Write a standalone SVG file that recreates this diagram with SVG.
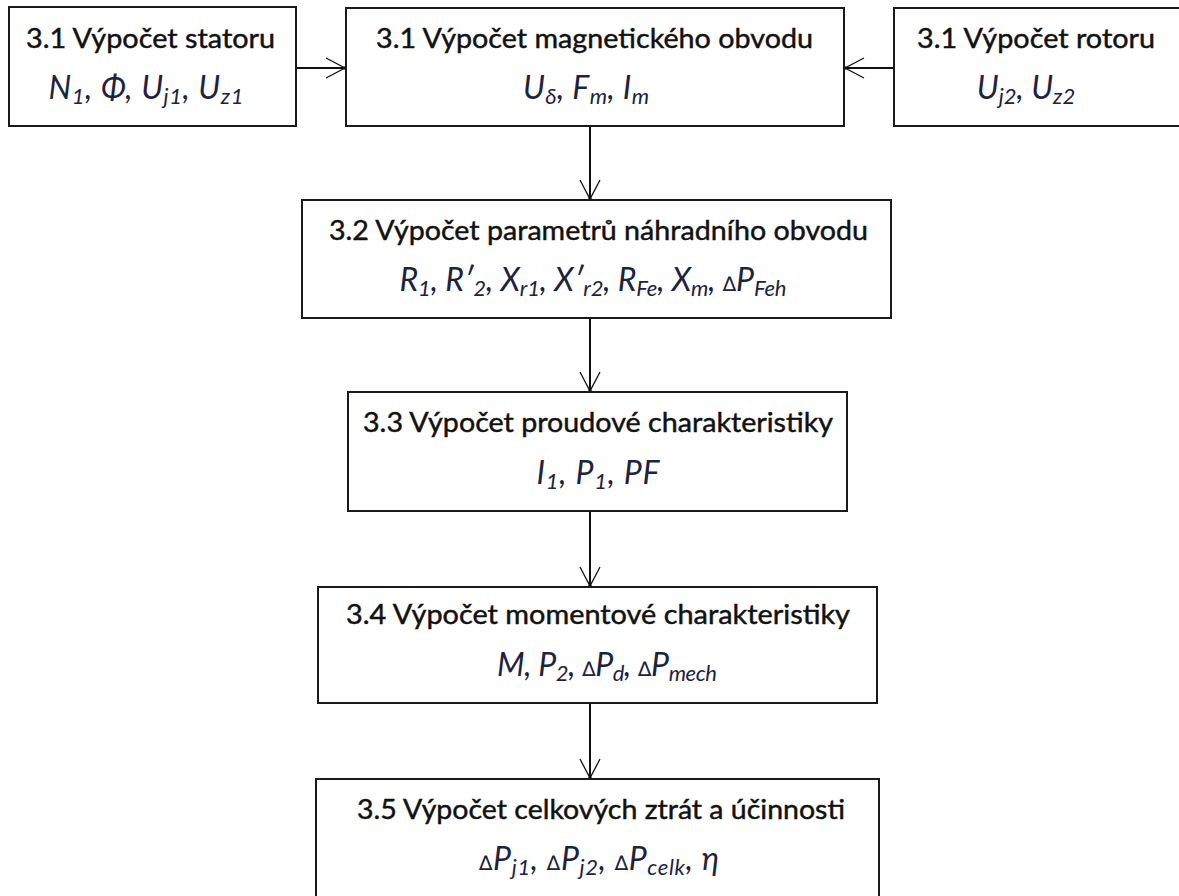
<svg xmlns="http://www.w3.org/2000/svg" width="1179" height="896" viewBox="0 0 1179 896">
<style>
.box{fill:#fff;stroke:#1a1a1a;stroke-width:2}
.t{font-family:Lato,"Liberation Sans",sans-serif;font-size:27px;fill:#111;stroke:#111;stroke-width:0.45;text-anchor:middle}
.f{font-family:Lato,"Liberation Sans",sans-serif;font-style:italic;font-size:32px;fill:#1c2340;text-anchor:middle}
.s{font-size:22px}
.d{font-style:normal;font-size:20px;font-family:"DejaVu Sans",sans-serif}
.c{fill:none;stroke:#111;stroke-width:2}
</style>
<defs>
<marker id="arr" markerUnits="userSpaceOnUse" markerWidth="24" markerHeight="24" viewBox="0 0 24 24" refX="21" refY="12" orient="auto">
<path d="M2,2 L21,12 L2,22" fill="none" stroke="#111" stroke-width="1.3"/>
<circle cx="21" cy="12" r="1.8" fill="#111"/>
</marker>
</defs>
<rect width="1179" height="896" fill="#fff"/>
<g id="connectors">
<line class="c" x1="296" y1="68" x2="345" y2="68" marker-end="url(#arr)"/>
<line class="c" x1="894" y1="68" x2="845" y2="68" marker-end="url(#arr)"/>
<line class="c" x1="590" y1="126" x2="590" y2="199" marker-end="url(#arr)"/>
<line class="c" x1="590" y1="318" x2="590" y2="391" marker-end="url(#arr)"/>
<line class="c" x1="590" y1="511" x2="590" y2="586" marker-end="url(#arr)"/>
<line class="c" x1="590" y1="703" x2="590" y2="778" marker-end="url(#arr)"/>
</g>
<g id="stator">
<rect class="box" x="9" y="7" width="287" height="119"/>
<text class="t" x="150.5" y="48" textLength="249" lengthAdjust="spacingAndGlyphs">3.1 Výpočet statoru</text>
<text class="f" x="146" y="99" textLength="195" lengthAdjust="spacing">N<tspan class="s" baseline-shift="-5">1</tspan>, Φ, U<tspan class="s" baseline-shift="-5">j1</tspan>, U<tspan class="s" baseline-shift="-5">z1</tspan></text>
</g>
<g id="magnetic">
<rect class="box" x="346" y="8" width="498" height="118"/>
<text class="t" x="594.5" y="48" textLength="437" lengthAdjust="spacingAndGlyphs">3.1 Výpočet magnetického obvodu</text>
<text class="f" x="586" y="99" textLength="126" lengthAdjust="spacing">U<tspan class="s" baseline-shift="-5">δ</tspan>, F<tspan class="s" baseline-shift="-5">m</tspan>, I<tspan class="s" baseline-shift="-5">m</tspan></text>
</g>
<g id="rotor">
<rect class="box" x="894" y="8" width="295" height="118"/>
<text class="t" x="1036" y="48" textLength="238" lengthAdjust="spacingAndGlyphs">3.1 Výpočet rotoru</text>
<text class="f" x="1026" y="99">U<tspan class="s" baseline-shift="-5">j2</tspan>,  U<tspan class="s" baseline-shift="-5">z2</tspan></text>
</g>
<g id="params">
<rect class="box" x="302" y="200" width="589" height="118"/>
<text class="t" x="598.5" y="240" textLength="539" lengthAdjust="spacingAndGlyphs">3.2 Výpočet parametrů náhradního obvodu</text>
<text class="f" x="593" y="291" textLength="387" lengthAdjust="spacing">R<tspan class="s" baseline-shift="-5">1</tspan>, Rʹ<tspan class="s" baseline-shift="-5">2</tspan>, X<tspan class="s" baseline-shift="-5">r1</tspan>, Xʹ<tspan class="s" baseline-shift="-5">r2</tspan>, R<tspan class="s" baseline-shift="-5">Fe</tspan>, X<tspan class="s" baseline-shift="-5">m</tspan>, <tspan class="d">∆</tspan>P<tspan class="s" baseline-shift="-5">Feh</tspan></text>
</g>
<g id="current">
<rect class="box" x="348" y="392" width="499" height="119"/>
<text class="t" x="598" y="432" textLength="470" lengthAdjust="spacingAndGlyphs">3.3 Výpočet proudové charakteristiky</text>
<text class="f" x="598" y="484" textLength="123" lengthAdjust="spacing">I<tspan class="s" baseline-shift="-5">1</tspan>, P<tspan class="s" baseline-shift="-5">1</tspan>, PF</text>
</g>
<g id="torque">
<rect class="box" x="318" y="587" width="559" height="116"/>
<text class="t" x="598" y="624" textLength="504" lengthAdjust="spacingAndGlyphs">3.4 Výpočet momentové charakteristiky</text>
<text class="f" x="607" y="676" textLength="220" lengthAdjust="spacing">M, P<tspan class="s" baseline-shift="-5">2</tspan>, <tspan class="d">∆</tspan>P<tspan class="s" baseline-shift="-5">d</tspan>, <tspan class="d">∆</tspan>P<tspan class="s" baseline-shift="-5">mech</tspan></text>
</g>
<g id="losses">
<rect class="box" x="316" y="779" width="563" height="130"/>
<text class="t" x="601" y="819" textLength="488" lengthAdjust="spacingAndGlyphs">3.5 Výpočet celkových ztrát a účinnosti</text>
<text class="f" x="599" y="870" textLength="240" lengthAdjust="spacing"><tspan class="d">∆</tspan>P<tspan class="s" baseline-shift="-5">j1</tspan>, <tspan class="d">∆</tspan>P<tspan class="s" baseline-shift="-5">j2</tspan>, <tspan class="d">∆</tspan>P<tspan class="s" baseline-shift="-5">celk</tspan>, η</text>
</g>
</svg>
